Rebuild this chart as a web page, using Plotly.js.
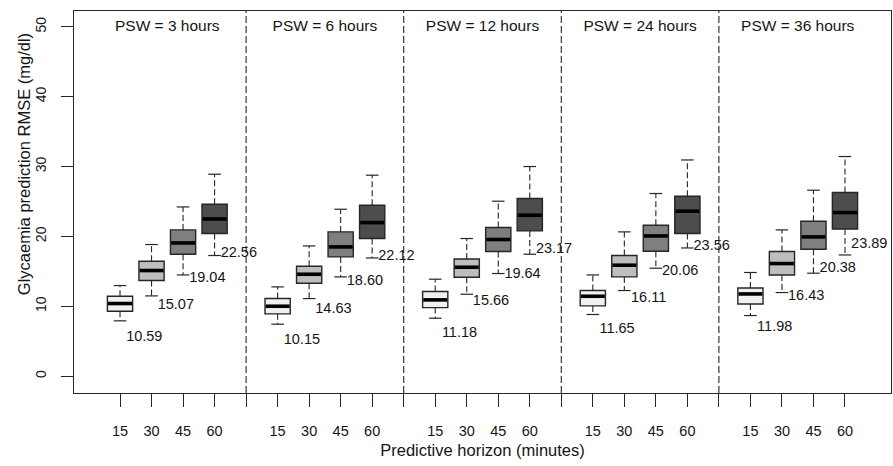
<!DOCTYPE html>
<html>
<head>
<meta charset="utf-8">
<script src="https://cdn.plot.ly/plotly-3.0.1.min.js"></script>
<style>html,body{margin:0;padding:0;background:#fff;}#chart{width:893px;height:466px;}</style>
</head>
<body>
<div id="chart"></div>
<script>
// ---- data ----
const panels = ["PSW = 3 hours", "PSW = 6 hours", "PSW = 12 hours", "PSW = 24 hours", "PSW = 36 hours"];
const horizons = ["15", "30", "45", "60"];
const lowerWhisker = [7.92, 11.49, 14.49, 17.27,  7.44, 11.11, 14.21, 16.92,  8.30, 11.73, 14.69, 17.45,  8.83, 12.26, 15.45, 18.35,  8.68, 11.97, 14.74, 17.35];
const q1 =           [9.30, 13.69, 17.45, 20.41,  8.92, 13.30, 17.07, 19.70,  9.82, 14.16, 17.84, 20.79, 10.06, 14.21, 17.88, 20.41, 10.34, 14.49, 18.17, 21.07];
const median =       [10.40, 15.12, 19.07, 22.50, 10.01, 14.59, 18.50, 21.98, 10.92, 15.59, 19.56, 23.03, 11.44, 15.88, 20.07, 23.61, 11.77, 16.12, 19.93, 23.42];
const q3 =           [11.44, 16.45, 20.93, 24.60, 11.11, 15.74, 20.65, 24.46, 12.12, 16.78, 21.27, 25.42, 12.26, 17.27, 21.60, 25.75, 12.63, 17.84, 22.17, 26.28];
const upperWhisker = [12.97, 18.84, 24.22, 28.90, 12.78, 18.64, 23.89, 28.76, 13.88, 19.70, 25.04, 30.00, 14.49, 20.65, 26.14, 30.94, 14.84, 20.93, 26.61, 31.43];
const meanRMSE =     [10.59, 15.07, 19.04, 22.56, 10.15, 14.63, 18.60, 22.12, 11.18, 15.66, 19.64, 23.17, 11.65, 16.11, 20.06, 23.56, 11.98, 16.43, 20.38, 23.89];
const yTicks = [0, 10, 20, 30, 40, 50];

// ---- styling ----
const fills = ["#f0f0f0", "#bebebe", "#7f7f7f", "#4d4d4d"];
const FONT = "Liberation Sans, Arial, sans-serif";
const INK = "#151515";
const BOXW = 0.8, STAPLE = 0.2;

const nH = horizons.length;
const pos = (g, h) => g * (nH + 1) + h + 1;

const traces = [];
// box bodies (one trace per horizon)
horizons.forEach((hz, h) => {
  const xs = [], base = [], len = [];
  panels.forEach((p, g) => {
    const i = g * nH + h;
    xs.push(pos(g, h)); base.push(q1[i]); len.push(q3[i] - q1[i]);
  });
  traces.push({type: "bar", x: xs, y: len, base: base, width: BOXW,
    marker: {color: fills[h], line: {color: "#262626", width: 1.4}},
    hoverinfo: "skip", showlegend: false});
});

// whiskers (dashed), staples, medians
const wx = [], wy = [], sx = [], sy = [], mx = [], my = [];
panels.forEach((p, g) => {
  horizons.forEach((hz, h) => {
    const i = g * nH + h, x = pos(g, h);
    wx.push(x, x, null, x, x, null);
    wy.push(q3[i], upperWhisker[i], null, q1[i], lowerWhisker[i], null);
    sx.push(x - STAPLE, x + STAPLE, null, x - STAPLE, x + STAPLE, null);
    sy.push(upperWhisker[i], upperWhisker[i], null, lowerWhisker[i], lowerWhisker[i], null);
    mx.push(x - BOXW / 2 + 0.02, x + BOXW / 2 - 0.02, null);
    my.push(median[i], median[i], null);
  });
});
traces.push({type: "scatter", mode: "lines", x: wx, y: wy, line: {color: "#262626", width: 1.1, dash: "6px,3px"}, hoverinfo: "skip", showlegend: false, connectgaps: false});
traces.push({type: "scatter", mode: "lines", x: sx, y: sy, line: {color: "#262626", width: 1.2}, hoverinfo: "skip", showlegend: false, connectgaps: false});
traces.push({type: "scatter", mode: "lines", x: mx, y: my, line: {color: "#000", width: 3.6}, hoverinfo: "skip", showlegend: false, connectgaps: false});

// mean value labels
const lx = [], ly = [], lt = [];
panels.forEach((p, g) => horizons.forEach((hz, h) => {
  const i = g * nH + h;
  lx.push(pos(g, h) + 0.77); ly.push(meanRMSE[i] - 5); lt.push(meanRMSE[i].toFixed(2));
}));
traces.push({type: "scatter", mode: "text", x: lx, y: ly, text: lt, textposition: "middle center",
  textfont: {family: FONT, size: 14.5, color: INK}, hoverinfo: "skip", showlegend: false, cliponaxis: false});

// panel titles
traces.push({type: "scatter", mode: "text", x: panels.map((p, g) => pos(g, 0) + (nH - 1) / 2), y: panels.map(() => 50),
  text: panels, textposition: "middle center", textfont: {family: FONT, size: 15.5, color: INK},
  hoverinfo: "skip", showlegend: false, cliponaxis: false});

// x ticks: every slot, labels only on box slots
const tickVals = [], tickText = [];
for (let k = 1; k <= panels.length * (nH + 1) - 1; k++) {
  tickVals.push(k);
  const slot = (k - 1) % (nH + 1);
  tickText.push(slot < nH ? horizons[slot] : "");
}

// dashed separators between panels
const shapes = [];
for (let g = 1; g < panels.length; g++) {
  shapes.push({type: "line", xref: "x", yref: "paper", x0: g * (nH + 1), x1: g * (nH + 1), y0: 0, y1: 1,
    line: {color: "#262626", width: 1.1, dash: "7px,3px"}, layer: "above"});
}

const layout = {
  width: 893, height: 466,
  margin: {l: 74, r: 2, t: 11, b: 73},
  paper_bgcolor: "#fff", plot_bgcolor: "#fff",
  barmode: "overlay",
  showlegend: false,
  font: {family: FONT, color: INK, size: 14},
  xaxis: {
    range: [-0.46, 25.46], tickmode: "array", tickvals: tickVals, ticktext: tickText,
    ticks: "outside", ticklen: 13, tickwidth: 1, tickcolor: "#262626",
    showgrid: false, zeroline: false, showline: true, linecolor: "#262626", linewidth: 1.4, mirror: true,
    tickfont: {family: FONT, size: 14.5, color: INK}, ticklabelstandoff: 11,
    title: {text: "Predictive horizon (minutes)", font: {family: FONT, size: 16.5, color: INK}, standoff: 6}
  },
  yaxis: {
    range: [-2.4, 52.25], tickmode: "array", tickvals: yTicks, ticktext: yTicks.map(String), tickangle: -90,
    ticks: "outside", ticklen: 12, tickwidth: 1, tickcolor: "#262626",
    showgrid: false, zeroline: false, showline: true, linecolor: "#262626", linewidth: 1.4, mirror: true,
    tickfont: {family: FONT, size: 14, color: INK}, ticklabelstandoff: 9
  },
  annotations: [{
    text: "Glycaemia prediction RMSE (mg/dl)", xref: "paper", yref: "paper",
    x: -0.062, y: 0.6, xanchor: "center", yanchor: "middle", textangle: -90, showarrow: false,
    font: {family: FONT, size: 16.5, color: INK}
  }],
  shapes: shapes
};

Plotly.newPlot("chart", traces, layout, {staticPlot: true, displayModeBar: false});
</script>
</body>
</html>
